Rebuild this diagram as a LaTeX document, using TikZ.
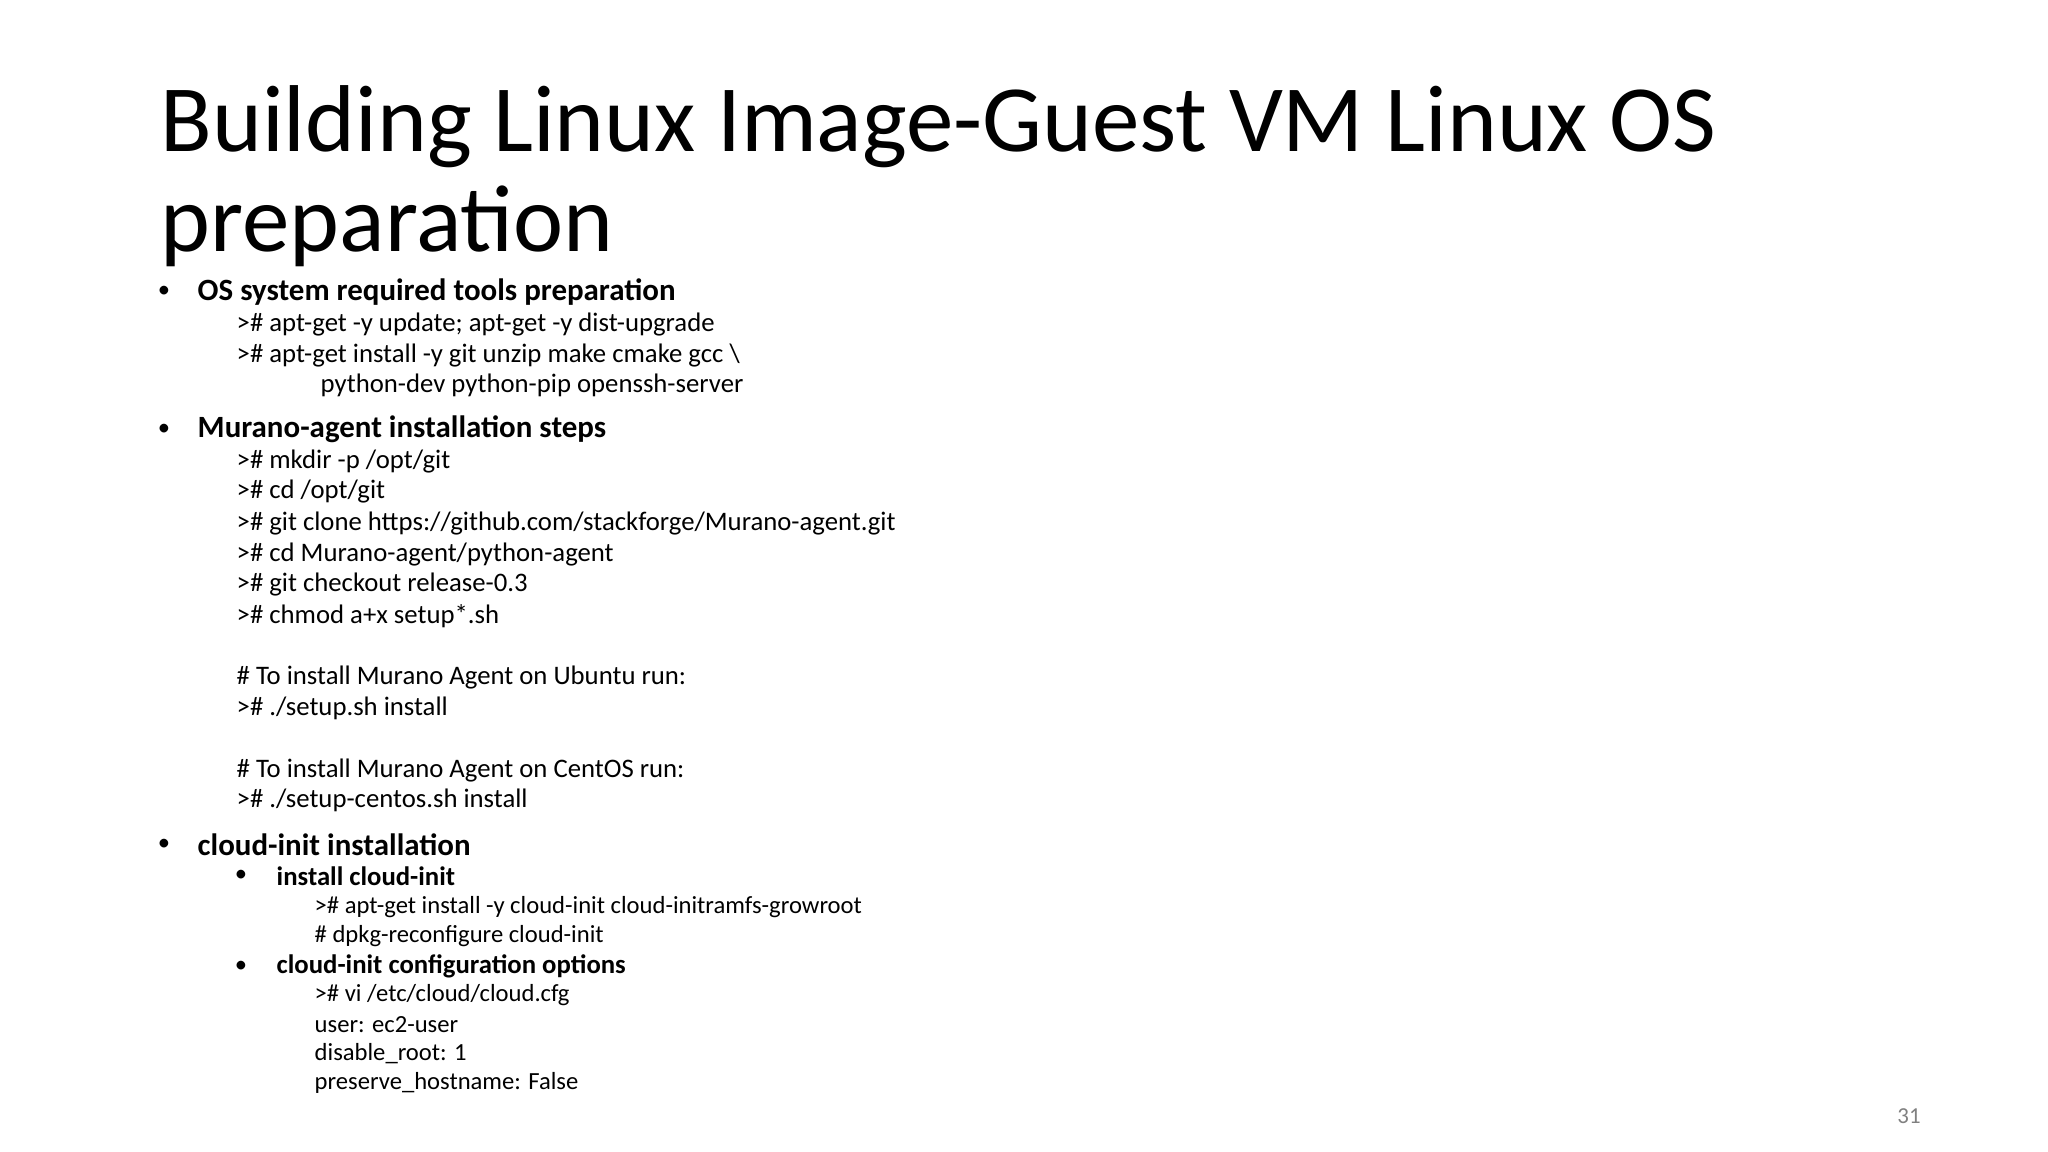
\documentclass[tikz,border=0pt]{standalone}
\usepackage{fontspec}
\setmainfont{Carlito}
\begin{document}
\begin{tikzpicture}[x=0.01cm,y=-0.01cm,
  ttl/.style={anchor=base west,inner sep=0,font=\fontsize{27}{32}\selectfont},
  hd/.style={anchor=west,inner sep=0,font=\fontsize{8.8}{10}\selectfont\bfseries},
  sh/.style={anchor=west,inner sep=0,font=\fontsize{7.6}{9}\selectfont\bfseries},
  cmd/.style={anchor=west,inner sep=0,font=\fontsize{7.6}{9}\selectfont},
  scmd/.style={anchor=west,inner sep=0,font=\fontsize{7}{8}\selectfont},
  dot/.style={anchor=center,inner sep=0,font=\fontsize{7}{8}\selectfont}]
\useasboundingbox (0,0) rectangle (2048,1152);
\fill[white] (0,0) rectangle (2048,1152);
\node[ttl] (t1) at (160,152) {Building Linux Image-Guest VM Linux OS};
\node[ttl] (t2) at (160,252) {preparation};
\node[dot] (d1) at (164,291.6) {•};
\node[hd] (h1) at (197,291.6) {OS system required tools preparation};
\node[cmd] (c1) at (236,324.8) {>\# apt-get -y update; apt-get -y dist-upgrade};
\node[cmd] (c2) at (236,355.3) {>\# apt-get install -y git unzip make cmake gcc \textbackslash};
\node[cmd] (c3) at (320,385.7) {python-dev python-pip openssh-server};
\node[dot] (d2) at (164,429.5) {•};
\node[hd] (h2) at (197,429.5) {Murano-agent installation steps};
\node[cmd] (c4) at (236,461.3) {>\# mkdir -p /opt/git};
\node[cmd] (c5) at (236,491.8) {>\# cd /opt/git};
\node[cmd] (c6) at (236,523.6) {>\# git clone https://github.com/stackforge/Murano-agent.git};
\node[cmd] (c7) at (236,554.1) {>\# cd Murano-agent/python-agent};
\node[cmd] (c8) at (236,584.6) {>\# git checkout release-0.3};
\node[cmd] (c9) at (236,616.4) {>\# chmod a+x setup*.sh};
\node[cmd] (c10) at (236,677.4) {\# To install Murano Agent on Ubuntu run:};
\node[cmd] (c11) at (236,707.9) {>\# ./setup.sh install};
\node[cmd] (c12) at (236,770.2) {\# To install Murano Agent on CentOS run:};
\node[cmd] (c13) at (236,800.7) {>\# ./setup-centos.sh install};
\node[dot] (d3) at (164,844.4) {•};
\node[hd] (h3) at (197,844.4) {cloud-init installation};
\node[dot] (d4) at (241,876.2) {•};
\node[sh] (s1) at (276,876.2) {install cloud-init};
\node[scmd] (c14) at (314,906.7) {>\# apt-get install -y cloud-init cloud-initramfs-growroot};
\node[scmd] (c15) at (314,935.9) {\# dpkg-reconfigure cloud-init};
\node[dot] (d5) at (241,966.4) {•};
\node[sh] (s2) at (276,966.4) {cloud-init configuration options};
\node[scmd] (c16) at (314,995.5) {>\# vi /etc/cloud/cloud.cfg};
\node[scmd] (c17) at (314,1024.7) {user: ec2-user};
\node[scmd] (c18) at (314,1053.9) {disable\_root: 1};
\node[scmd] (c19) at (314,1083.0) {preserve\_hostname: False};
\node[anchor=center,inner sep=0,text=gray,font=\fontsize{6.5}{8}\selectfont] (pg) at (1909,1116) {31};
\end{tikzpicture}
\end{document}
